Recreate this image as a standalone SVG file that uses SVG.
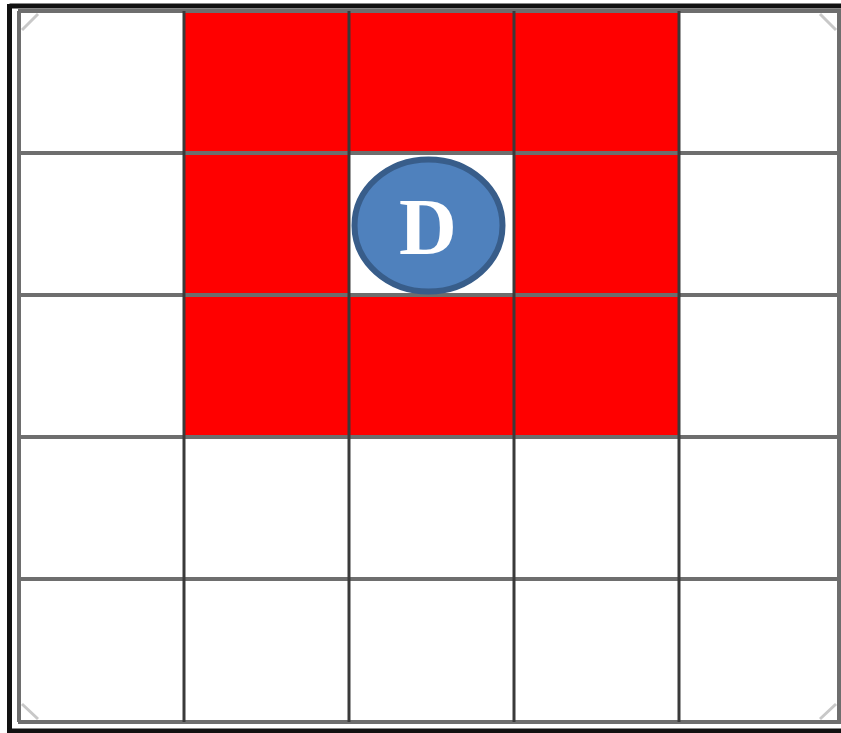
<svg xmlns="http://www.w3.org/2000/svg" width="841" height="733" viewBox="0 0 841 733">
<style>
.red{fill:#ff0000}
.v{stroke:#3a3a3a;stroke-width:3}
.h{stroke:#6e6e6e;stroke-width:4}
.frame{stroke:#111;stroke-width:5;fill:none}
.corner{stroke:#c8c8c8;stroke-width:3;fill:none}
.label{font-family:"Liberation Serif","Times New Roman",serif;font-weight:bold;font-size:80px;fill:#ffffff}
</style>
<rect x="0" y="0" width="841" height="733" fill="#ffffff"/>
<g id="red-cells">
<rect class="red" x="183" y="11" width="495" height="142"/>
<rect class="red" x="183" y="153" width="165" height="142"/>
<rect class="red" x="513" y="153" width="165" height="142"/>
<rect class="red" x="183" y="295" width="495" height="142"/>
</g>
<g id="grid">
<line class="h" x1="18" y1="11" x2="841" y2="11"/>
<line class="h" x1="18" y1="153" x2="841" y2="153"/>
<line class="h" x1="18" y1="295" x2="841" y2="295"/>
<line class="h" x1="18" y1="437" x2="841" y2="437"/>
<line class="h" x1="18" y1="579" x2="841" y2="579"/>
<line class="h" x1="18" y1="722" x2="841" y2="722"/>
<line class="h" x1="19" y1="11" x2="19" y2="722"/>
<line class="v" x1="184" y1="11" x2="184" y2="722"/>
<line class="v" x1="349" y1="11" x2="349" y2="722"/>
<line class="v" x1="514" y1="11" x2="514" y2="722"/>
<line class="v" x1="679" y1="11" x2="679" y2="722"/>
<line class="h" x1="839" y1="11" x2="839" y2="722"/>
</g>
<g id="corners">
<path class="corner" d="M22,30 L38,14"/>
<path class="corner" d="M820,14 L836,30"/>
<path class="corner" d="M22,704 L38,719"/>
<path class="corner" d="M820,719 L836,704"/>
</g>
<g id="frame">
<line class="frame" x1="9.5" y1="6" x2="841" y2="6"/>
<line class="frame" x1="9.5" y1="4" x2="9.5" y2="733"/>
<line class="frame" x1="7" y1="731" x2="841" y2="731"/>
</g>
<g id="node-D">
<ellipse cx="428.5" cy="225.5" rx="74" ry="66" fill="#4f81bd" stroke="#385d8a" stroke-width="6"/>
<text class="label" x="428" y="254" text-anchor="middle">D</text>
</g>
</svg>
